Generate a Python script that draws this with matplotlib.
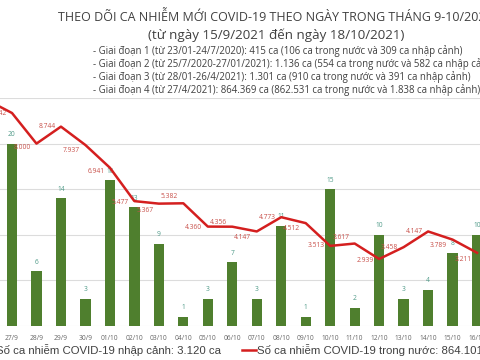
import matplotlib.pyplot as plt
from matplotlib.lines import Line2D
import numpy as np

# dates shown on the x axis
dates = ['27/9', '28/9', '29/9', '30/9', '01/10', '02/10', '03/10', '04/10', '05/10', '06/10',
         '07/10', '08/10', '09/10', '10/10', '11/10', '12/10', '13/10', '14/10', '15/10', '16/10']
# imported cases (bars)
imported = [20, 6, 14, 3, 16, 13, 9, 1, 3, 7, 3, 11, 1, 15, 2, 10, 3, 4, 8, 10]
# domestic cases (line)
domestic = [9342, 8000, 8744, 7937, 6941, 5477, 5367, 5382, 4360, 4356,
            4147, 4773, 4512, 3513, 3617, 2939, 3458, 4147, 3789, 3211]
# day before the first visible date (only the line tail shows)
domestic_prev = 9900

# label nudges for the line values (points)
lbl_dy = [0, -3, 0, -4, -3, -1, -5, 5, -1, 3, -4, 0, -4, 0, 4, -1, 0, 0, -4, -5]

plt.rcParams['font.family'] = ['Open Sans', 'DejaVu Sans']

fig = plt.figure(figsize=(4.8, 3.6), dpi=100)
ax = fig.add_axes([0, 34 / 360, 1, 228 / 360])
ax2 = ax.twinx()

x = np.arange(len(dates))
bars = ax.bar(x, imported, width=0.42, color='#4f7f2e', zorder=2)
for xi, v in zip(x, imported):
    ax.annotate(str(v), (xi, v), xytext=(0, 4), textcoords='offset points',
                ha='center', va='bottom', fontsize=4.8, color='#4f9a88')

ax.set_ylim(0, 25)
ax.set_yticks([0, 5, 10, 15, 20, 25])
ax.yaxis.grid(True, color='#dcdcdc', linewidth=0.8)
ax.set_axisbelow(True)
ax.tick_params(axis='y', left=False, labelleft=False)
ax.tick_params(axis='x', bottom=False, labelsize=4.8, labelcolor='#666666', pad=3)
ax.set_xticks(x)
ax.set_xticklabels(dates)
for s in ax.spines.values():
    s.set_visible(False)

xl = np.concatenate([[-1], x])
yl = [domestic_prev] + domestic
ax2.plot(xl, yl, color='#d41f1f', linewidth=1.8, zorder=3)
for xi, v, dy in zip(x, domestic, lbl_dy):
    ax2.annotate(f"{v / 1000:.3f}", (xi, v), xytext=(-4, dy), textcoords='offset points',
                 ha='right', va='center', fontsize=4.8, color='#c8504a')
ax2.set_ylim(0, 10000)
ax2.set_yticks([])
for s in ax2.spines.values():
    s.set_visible(False)

ax.set_xlim(-0.49, 19.12)
ax2.set_xlim(-0.49, 19.12)

# titles
fig.text(58 / 480, 1 - 17 / 360, 'THEO DÕI CA NHIỄM MỚI COVID-19 THEO NGÀY TRONG THÁNG 9-10/2021',
         ha='left', va='center', fontsize=9.0, color='#404040')
fig.text(276 / 480, 1 - 35 / 360, '(từ ngày 15/9/2021 đến ngày 18/10/2021)',
         ha='center', va='center', fontsize=9.6, color='#404040')
bullets = [
    '- Giai đoạn 1 (từ 23/01-24/7/2020): 415 ca (106 ca trong nước và 309 ca nhập cảnh)',
    '- Giai đoạn 2 (từ 25/7/2020-27/01/2021): 1.136 ca (554 ca trong nước và 582 ca nhập cảnh)',
    '- Giai đoạn 3 (từ 28/01-26/4/2021): 1.301 ca (910 ca trong nước và 391 ca nhập cảnh)',
    '- Giai đoạn 4 (từ 27/4/2021): 864.369 ca (862.531 ca trong nước và 1.838 ca nhập cảnh)',
]
for i, b in enumerate(bullets):
    fig.text(93 / 480, 1 - (51 + 13 * i) / 360, b, ha='left', va='center',
             fontsize=6.9, color='#404040')

# legend at the bottom
fig.text(-4 / 480, 1 - 350 / 360, 'Số ca nhiễm COVID-19 nhập cảnh: 3.120 ca',
         ha='left', va='center', fontsize=8.2, color='#404040',
         family=['Liberation Sans', 'DejaVu Sans'])
fig.add_artist(Line2D([242 / 480, 256 / 480], [1 - 350 / 360] * 2,
                      color='#d41f1f', linewidth=1.8))
fig.text(257 / 480, 1 - 350 / 360, 'Số ca nhiễm COVID-19 trong nước: 864.101 ca',
         ha='left', va='center', fontsize=8.2, color='#404040',
         family=['Liberation Sans', 'DejaVu Sans'])

plt.savefig('out.png', dpi=100)
